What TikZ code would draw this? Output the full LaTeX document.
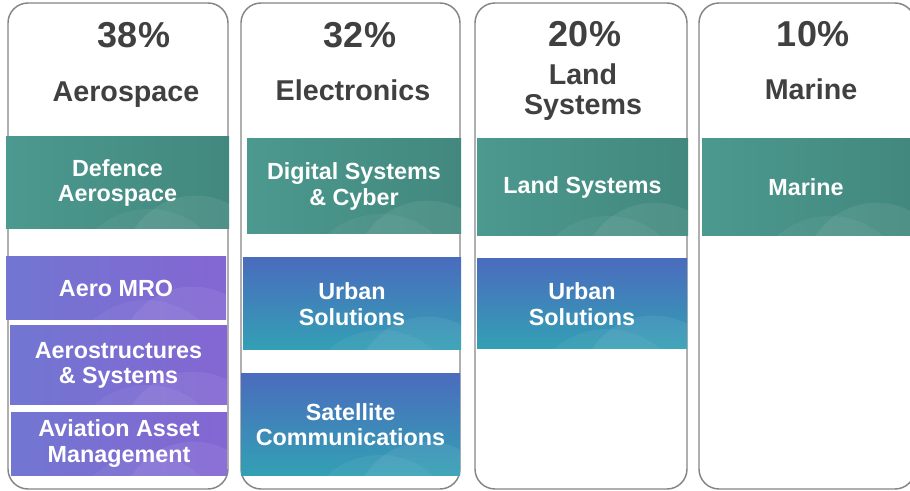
\documentclass[tikz,border=0pt]{standalone}
\usepackage{fontspec}
\setmainfont{Liberation Sans}
\definecolor{titlegray}{HTML}{404040}
\definecolor{framegray}{HTML}{858585}
\definecolor{tealA}{HTML}{4C998F}
\definecolor{tealB}{HTML}{2C7268}
\definecolor{tealC}{HTML}{42887E}
\definecolor{purpA}{HTML}{7276D2}
\definecolor{purpB}{HTML}{6040C2}
\definecolor{purpC}{HTML}{8466D2}
\definecolor{blueA}{HTML}{4A6CBE}
\definecolor{blueB}{HTML}{33A0B4}

\begin{document}
\begin{tikzpicture}[x=0.75pt, y=-0.75pt,
  column/.style={draw=framegray, line width=1.1pt, rounded corners=15pt, fill=white},
  pct/.style={font=\bfseries\fontsize{27}{29}\selectfont, text=titlegray, anchor=base},
  segname/.style={font=\bfseries\fontsize{21.5}{22.5}\selectfont, text=titlegray, align=center, anchor=base},
  seg/.style={rectangle, inner sep=0pt, text=white, align=center,
    font=\bfseries\fontsize{17.5}{19}\selectfont},
  swirl/.style={path picture={
    \fill[white, opacity=.07] ([xshift=-25pt, yshift=-30pt]path picture bounding box.south east) circle (55pt);
    \fill[white, opacity=.05] ([xshift=-60pt, yshift=-45pt]path picture bounding box.south east) circle (60pt);}},
  tealbox/.style={seg, swirl, left color=tealA, middle color=tealB, right color=tealC},
  purpbox/.style={seg, swirl, left color=purpA, middle color=purpB, right color=purpC},
  bluebox/.style={seg, swirl, top color=blueA, bottom color=blueB}]
  \useasboundingbox (0,0) rectangle (910,491);
  \begin{scope}
  \clip (0,0) rectangle (910,491);

  % columns
  \draw[column] (8,3) rectangle (228,489);
  \draw[column] (241,3) rectangle (460,489);
  \draw[column] (475,3) rectangle (687,489);
  \draw[column] (699,3) rectangle (915,489);

  \node[pct] (p1) at (134,48) {38\%};
  \node[segname] (s1) at (126,102) {Aerospace};
  \node[pct] (p2) at (360,48) {32\%};
  \node[segname] (s2) at (353,101) {Electronics};
  \node[pct] (p3) at (585,47) {20\%};
  \node[segname] (s3) at (583,115) {Land\\Systems};
  \node[pct] (p4) at (813,47) {10\%};
  \node[segname] (s4) at (811,100) {Marine};

  % sectors
  \node[tealbox, minimum width=167.25pt, minimum height=69pt] (defaero) at (117.5,183) {Defence\\Aerospace};
  \node[purpbox, minimum width=165pt, minimum height=47.25pt] (aeromro) at (116,288.5) {Aero MRO};
  \node[purpbox, minimum width=162.75pt, minimum height=59.25pt] (aerostr) at (118.5,365.5) {Aerostructures\\\& Systems};
  \node[purpbox, minimum width=162pt, minimum height=47.25pt] (aviation) at (119,443.5) {Aviation Asset\\Management};

  \node[tealbox, minimum width=160.5pt, minimum height=71.25pt] (digital) at (354,186.5) {Digital Systems\\\& Cyber};
  \node[bluebox, minimum width=163.5pt, minimum height=69pt] (urbanA) at (352,304) {Urban\\Solutions};
  \node[bluebox, minimum width=164.25pt, minimum height=75.75pt] (satcom) at (350.5,424.5) {Satellite\\Communications};

  \node[tealbox, minimum width=158.25pt, minimum height=72.75pt] (land) at (582.5,187.5) {Land Systems};
  \node[bluebox, minimum width=157.5pt, minimum height=67.5pt] (urbanB) at (582,304) {Urban\\Solutions};

  \node[tealbox, minimum width=156pt, minimum height=72.75pt] (marine) at (806,187.5) {Marine};
  \end{scope}
\end{tikzpicture}
\end{document}
